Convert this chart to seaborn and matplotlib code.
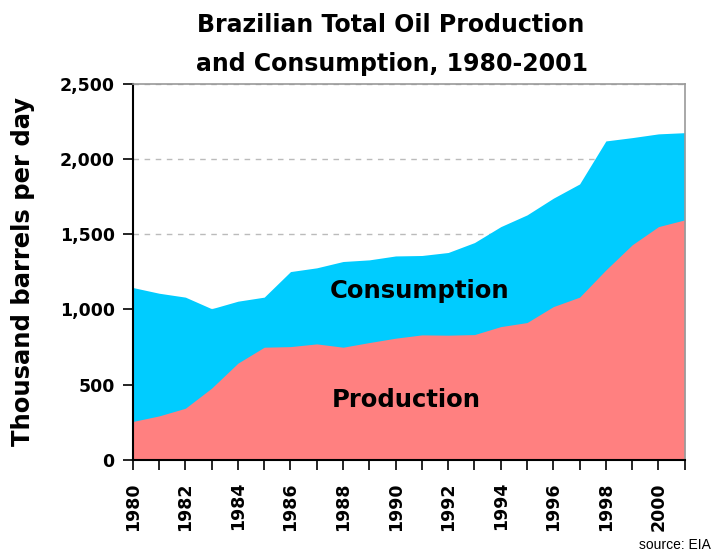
import numpy as np
import pandas as pd
import matplotlib
matplotlib.use("Agg")
import matplotlib.pyplot as plt
import seaborn as sns

# values (thousand barrels per day)
years = list(range(1980, 2002))
consumption = [1146, 1108, 1082, 1005, 1055, 1082, 1252, 1277, 1319, 1330, 1356,
               1359, 1379, 1445, 1551, 1629, 1740, 1835, 2121, 2143, 2168, 2176]
production = [255, 292, 343, 477, 643, 749, 753, 771, 749, 780, 809,
              831, 829, 833, 886, 913, 1019, 1082, 1263, 1430, 1551, 1596]
y_ticks = [0, 500, 1000, 1500, 2000, 2500]
y_tick_labels = ["0", "500", "1,000", "1,500", "2,000", "2,500"]

data = pd.DataFrame({"Year": years, "Consumption": consumption, "Production": production})

sns.set_style("white")
plt.rcParams["font.family"] = ["DejaVu Sans"]
plt.rcParams["text.color"] = "black"
plt.rcParams["axes.labelcolor"] = "black"
plt.rcParams["xtick.color"] = "black"
plt.rcParams["ytick.color"] = "black"

fig = plt.figure(figsize=(7.14, 5.56), dpi=100)
ax = fig.add_axes([0.186, 0.173, 0.773, 0.676])

# invisible lines through seaborn, then the filled areas
sns.lineplot(data=data, x="Year", y="Consumption", ax=ax, linewidth=0, color="#00CCFF")
sns.lineplot(data=data, x="Year", y="Production", ax=ax, linewidth=0, color="#FF8080")
ax.fill_between(data["Year"], 0, data["Consumption"], color="#00CCFF", linewidth=0, zorder=2)
ax.fill_between(data["Year"], 0, data["Production"], color="#FF8080", linewidth=0, zorder=3)

ax.set_xlim(1980, 2001)
ax.set_ylim(0, 2500)
ax.set_yticks(y_ticks)
ax.set_yticklabels(y_tick_labels, fontsize=12.5, fontweight="bold")
ax.set_xticks(years)
ax.set_xticklabels([str(y) if y % 2 == 0 else "" for y in years],
                   rotation=90, fontsize=12.5, fontweight="bold")
ax.tick_params(axis="both", direction="out", length=7, width=1.2, color="black",
               bottom=True, left=True)
ax.tick_params(axis="x", pad=9)
ax.tick_params(axis="y", pad=6)

ax.yaxis.grid(True, linestyle=(0, (4, 4)), color="#BBBBBB", linewidth=1)
ax.set_axisbelow(True)

for side in ["left", "bottom"]:
    ax.spines[side].set_color("black")
    ax.spines[side].set_linewidth(1.5)
    ax.spines[side].set_zorder(5)
for side in ["top", "right"]:
    ax.spines[side].set_color("#999999")
    ax.spines[side].set_linewidth(1.2)
    ax.spines[side].set_zorder(5)

ax.set_xlabel("")
ax.set_ylabel("Thousand barrels per day", fontsize=17.5, fontweight="bold", labelpad=18)

ax.text(1990.9, 1120, "Consumption", fontsize=17.5, fontweight="bold", ha="center",
        va="center", zorder=6)
ax.text(1990.4, 400, "Production", fontsize=17.5, fontweight="bold", ha="center",
        va="center", zorder=6)

fig.text(0.547, 0.9424, "Brazilian Total Oil Production", ha="center", va="baseline",
         fontsize=17, fontweight="bold")
fig.text(0.549, 0.8723, "and Consumption, 1980-2001", ha="center", va="baseline",
         fontsize=17, fontweight="bold")
fig.text(0.995, 0.008, "source: EIA", ha="right", va="bottom", fontsize=10,
         family="Liberation Sans")

fig.savefig("out.png", dpi=100)
